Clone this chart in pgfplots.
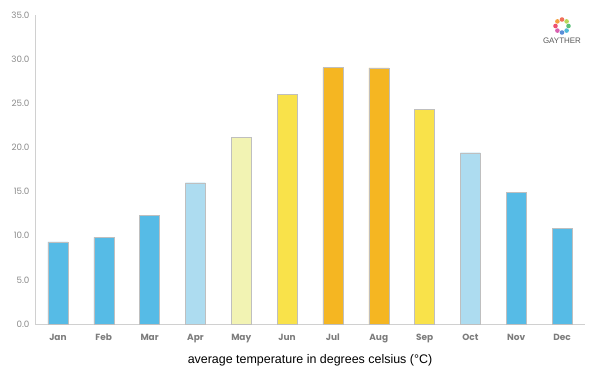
\documentclass[border=0pt]{standalone}
\usepackage{pgfplots}
\pgfplotsset{compat=1.18}
\usepackage{fontspec}
\setmainfont{Liberation Sans}
\newfontfamily\pop{Poppins}
\definecolor{cblue}{HTML}{56BBE6}
\definecolor{clblue}{HTML}{ADDCF0}
\definecolor{cpale}{HTML}{F2F3B3}
\definecolor{cyel}{HTML}{F9E24A}
\definecolor{corg}{HTML}{F5B622}
\definecolor{tickgray}{HTML}{8A8A8A}
\definecolor{axgray}{HTML}{D0D0D0}
\definecolor{l1}{HTML}{F0705A}
\definecolor{l2}{HTML}{B8D85A}
\definecolor{l3}{HTML}{5CC07A}
\definecolor{l4}{HTML}{4FB8D8}
\definecolor{l5}{HTML}{5A8ED8}
\definecolor{l6}{HTML}{D860B0}
\definecolor{l7}{HTML}{EE5070}
\definecolor{l8}{HTML}{F5A040}
\begin{document}
\begin{tikzpicture}
\path[use as bounding box] (0,0) rectangle (600bp,375bp);
\begin{axis}[
  at={(35bp,51bp)}, anchor=south west,
  scale only axis, width=550bp, height=309bp,
  xmin=-0.5, xmax=11.5, ymin=0, ymax=35,
  axis x line*=bottom, axis y line*=left,
  axis line style={axgray, line width=1pt, -},
  xtick={0,...,11},
  xticklabels={Jan,Feb,Mar,Apr,May,Jun,Jul,Aug,Sep,Oct,Nov,Dec},
  ytick={0,5,...,35},
  major tick length=0pt,
  yticklabel style={font=\pop\fontsize{8.8}{10}\selectfont, color=tickgray, xshift=-2bp},
  xticklabel style={font=\pop\bfseries\fontsize{9}{10}\selectfont, color=tickgray!90!black, yshift=-6bp, text height=7bp, text depth=2bp},
  /pgf/number format/.cd, fixed, fixed zerofill, precision=1, assume math mode=true,
  /pgfplots/.cd,
  xlabel={average temperature in degrees celsius (°C)},
  xlabel style={font=\fontsize{12.5}{14}\selectfont, yshift=-5bp},
  clip=false,
]
\addplot[ybar, bar width=20bp, fill=cblue, draw=black!25] coordinates {(0,9.3) (1,9.8) (2,12.3) (10,14.9) (11,10.8)};
\addplot[ybar, bar width=20bp, fill=clblue, draw=black!25] coordinates {(3,16.0) (9,19.4)};
\addplot[ybar, bar width=20bp, fill=cpale, draw=black!25] coordinates {(4,21.2)};
\addplot[ybar, bar width=20bp, fill=cyel, draw=black!25] coordinates {(5,26.0) (8,24.3)};
\addplot[ybar, bar width=20bp, fill=corg, draw=black!25] coordinates {(6,29.05) (7,29.0)};
\end{axis}
% logo
\begin{scope}[shift={(562bp,349bp)}]
\foreach \a/\c in {90/l1, 45/l2, 0/l3, -45/l4, -90/l5, -135/l6, 180/l7, 135/l8}{
  \fill[\c] (\a:6.5bp) circle (2.3bp);
}
\end{scope}
\node[font=\fontsize{8}{9}\selectfont, text=black!65] at (562bp,334bp) {GAYTHER};
\end{tikzpicture}
\end{document}
